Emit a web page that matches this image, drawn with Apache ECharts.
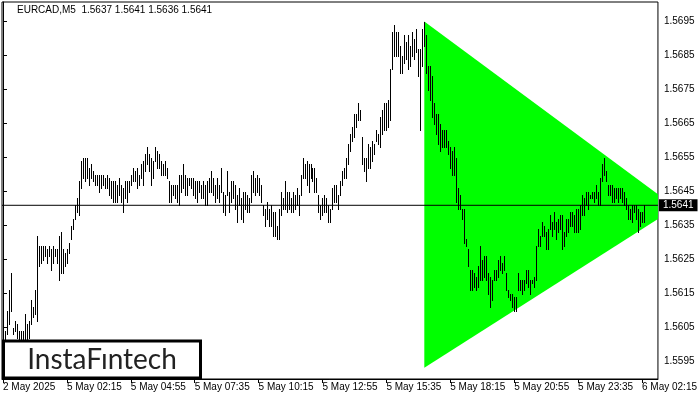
<!DOCTYPE html>
<html>
<head>
<meta charset="utf-8">
<script src="https://cdn.jsdelivr.net/npm/echarts@6/dist/echarts.min.js"></script>
<style>html,body{margin:0;padding:0;background:#fff}#c{width:700px;height:400px}</style>
</head>
<body>
<div id="c"></div>
<script>
const symbolName = 'EURCAD,M5';
const lastOHLC = [1.5637, 1.5641, 1.5636, 1.5641];
const currentPrice = 1.5641;
const yTicks = [1.5595, 1.5605, 1.5615, 1.5625, 1.5635, 1.5645, 1.5655, 1.5665, 1.5675, 1.5685, 1.5695];
const xTickIndex = [0, 32, 64, 96, 128, 160, 192, 224, 256, 288, 320];
const xTickLabels = ['2 May 2025', '5 May 02:15', '5 May 04:55', '5 May 07:35', '5 May 10:15', '5 May 12:55',
  '5 May 15:35', '5 May 18:15', '5 May 20:55', '5 May 23:35', '6 May 02:15'];

const highs = [
1.5609,1.5604,1.5610,1.5616,1.5621,1.5605,1.5607,1.5606,1.5604,1.5604,
1.5604,1.5609,1.5606,1.5607,1.5613,1.5611,1.5616,1.5632,1.5629,1.5629,
1.5629,1.5629,1.5628,1.5629,1.5628,1.5629,1.5628,1.5628,1.5632,1.5633,
1.5628,1.5627,1.5628,1.5630,1.5635,1.5637,1.5641,1.5643,1.5648,1.5654,
1.5655,1.5655,1.5655,1.5652,1.5653,1.5651,1.5650,1.5650,1.5650,1.5650,
1.5650,1.5649,1.5650,1.5649,1.5648,1.5648,1.5648,1.5647,1.5649,1.5647,
1.5646,1.5648,1.5648,1.5648,1.5650,1.5652,1.5651,1.5652,1.5650,1.5653,
1.5654,1.5656,1.5658,1.5656,1.5655,1.5654,1.5658,1.5657,1.5656,1.5654,
1.5653,1.5654,1.5652,1.5648,1.5647,1.5647,1.5647,1.5647,1.5650,1.5650,
1.5653,1.5650,1.5649,1.5649,1.5649,1.5649,1.5648,1.5648,1.5648,1.5647,
1.5648,1.5647,1.5648,1.5649,1.5651,1.5649,1.5647,1.5649,1.5647,1.5652,
1.5645,1.5644,1.5651,1.5645,1.5648,1.5648,1.5647,1.5644,1.5646,1.5643,
1.5645,1.5645,1.5644,1.5643,1.5650,1.5651,1.5649,1.5650,1.5649,1.5647,
1.5641,1.5640,1.5642,1.5640,1.5641,1.5639,1.5639,1.5635,1.5640,1.5645,
1.5643,1.5648,1.5645,1.5645,1.5643,1.5645,1.5644,1.5646,1.5644,1.5650,
1.5655,1.5653,1.5654,1.5653,1.5653,1.5652,1.5652,1.5649,1.5644,1.5641,
1.5643,1.5644,1.5643,1.5641,1.5640,1.5646,1.5647,1.5647,1.5644,1.5648,
1.5651,1.5652,1.5655,1.5659,1.5662,1.5664,1.5668,1.5668,1.5671,1.5669,
1.5661,1.5655,1.5655,1.5659,1.5658,1.5660,1.5659,1.5663,1.5662,1.5667,
1.5669,1.5671,1.5671,1.5672,1.5681,1.5692,1.5694,1.5692,1.5692,1.5688,
1.5685,1.5691,1.5689,1.5691,1.5688,1.5692,1.5690,1.5693,1.5687,1.5687,
1.5693,1.5695,1.5691,1.5682,1.5682,1.5679,1.5671,1.5668,1.5668,1.5665,
1.5663,1.5663,1.5663,1.5660,1.5658,1.5657,1.5658,1.5655,1.5646,1.5644,
1.5640,1.5640,1.5631,1.5628,1.5622,1.5622,1.5621,1.5620,1.5623,1.5629,
1.5625,1.5626,1.5626,1.5621,1.5620,1.5619,1.5622,1.5622,1.5625,1.5626,
1.5624,1.5626,1.5621,1.5616,1.5615,1.5615,1.5614,1.5614,1.5621,1.5619,
1.5619,1.5619,1.5622,1.5622,1.5619,1.5619,1.5620,1.5629,1.5634,1.5632,
1.5636,1.5635,1.5633,1.5634,1.5638,1.5636,1.5639,1.5636,1.5637,1.5638,
1.5638,1.5633,1.5637,1.5637,1.5639,1.5639,1.5638,1.5640,1.5640,1.5641,
1.5644,1.5643,1.5645,1.5645,1.5644,1.5645,1.5645,1.5647,1.5645,1.5649,
1.5653,1.5655,1.5651,1.5647,1.5647,1.5647,1.5646,1.5646,1.5646,1.5646,
1.5646,1.5645,1.5643,1.5641,1.5640,1.5641,1.5641,1.5641,1.5640,1.5639,
1.5639,1.5641];

const lows = [
1.5599,1.5601,1.5603,1.5606,1.5610,1.5603,1.5604,1.5602,1.5601,1.5601,
1.5601,1.5601,1.5601,1.5602,1.5606,1.5608,1.5609,1.5607,1.5623,1.5624,
1.5625,1.5626,1.5624,1.5626,1.5622,1.5624,1.5626,1.5624,1.5619,1.5621,
1.5621,1.5623,1.5624,1.5627,1.5631,1.5634,1.5637,1.5639,1.5638,1.5646,
1.5649,1.5648,1.5649,1.5647,1.5649,1.5648,1.5647,1.5647,1.5645,1.5646,
1.5647,1.5646,1.5646,1.5644,1.5643,1.5642,1.5642,1.5642,1.5644,1.5642,
1.5639,1.5643,1.5642,1.5645,1.5647,1.5648,1.5648,1.5646,1.5647,1.5649,
1.5647,1.5651,1.5653,1.5651,1.5647,1.5649,1.5654,1.5652,1.5652,1.5650,
1.5650,1.5650,1.5649,1.5642,1.5642,1.5644,1.5643,1.5642,1.5641,1.5645,
1.5646,1.5644,1.5644,1.5647,1.5646,1.5644,1.5643,1.5642,1.5645,1.5643,
1.5643,1.5641,1.5641,1.5645,1.5645,1.5644,1.5642,1.5643,1.5642,1.5645,
1.5639,1.5638,1.5644,1.5639,1.5642,1.5643,1.5640,1.5636,1.5641,1.5637,
1.5636,1.5640,1.5639,1.5639,1.5642,1.5645,1.5644,1.5645,1.5644,1.5642,
1.5638,1.5635,1.5637,1.5635,1.5635,1.5632,1.5632,1.5631,1.5631,1.5638,
1.5640,1.5640,1.5639,1.5640,1.5639,1.5639,1.5640,1.5641,1.5638,1.5644,
1.5649,1.5649,1.5647,1.5645,1.5649,1.5648,1.5645,1.5645,1.5639,1.5637,
1.5638,1.5639,1.5639,1.5636,1.5636,1.5640,1.5642,1.5642,1.5640,1.5644,
1.5647,1.5649,1.5649,1.5653,1.5657,1.5660,1.5661,1.5664,1.5666,1.5666,
1.5653,1.5651,1.5648,1.5652,1.5652,1.5654,1.5656,1.5660,1.5659,1.5658,
1.5662,1.5663,1.5663,1.5664,1.5666,1.5681,1.5685,1.5685,1.5685,1.5680,
1.5680,1.5683,1.5684,1.5681,1.5682,1.5685,1.5684,1.5686,1.5679,1.5663,
1.5682,1.5688,1.5680,1.5675,1.5672,1.5667,1.5665,1.5662,1.5659,1.5657,
1.5658,1.5658,1.5658,1.5656,1.5652,1.5650,1.5650,1.5642,1.5640,1.5640,
1.5637,1.5630,1.5629,1.5623,1.5616,1.5616,1.5617,1.5616,1.5617,1.5619,
1.5619,1.5620,1.5619,1.5615,1.5611,1.5613,1.5619,1.5619,1.5620,1.5622,
1.5621,1.5622,1.5616,1.5614,1.5613,1.5611,1.5610,1.5610,1.5616,1.5616,
1.5615,1.5616,1.5618,1.5617,1.5615,1.5618,1.5617,1.5619,1.5629,1.5629,
1.5632,1.5632,1.5628,1.5628,1.5634,1.5632,1.5634,1.5631,1.5633,1.5634,
1.5628,1.5629,1.5632,1.5633,1.5635,1.5635,1.5633,1.5633,1.5633,1.5634,
1.5638,1.5638,1.5641,1.5640,1.5643,1.5643,1.5642,1.5643,1.5641,1.5641,
1.5648,1.5650,1.5648,1.5644,1.5644,1.5642,1.5642,1.5643,1.5642,1.5643,
1.5642,1.5641,1.5640,1.5637,1.5637,1.5636,1.5639,1.5637,1.5633,1.5635,
1.5636,1.5636];

// triangle pattern vertices (bar index, price)
const triangleIndex = [211, 211, 337];
const trianglePrice = [1.56951, 1.55932, 1.56403];

const FONT = 'Liberation Sans';

function clipPoly(pts, r) {
  const x0 = r.x, x1 = r.x + r.width, y0 = r.y, y1 = r.y + r.height;
  const planes = [
    [p => p[0] >= x0, (a, b) => { const t = (x0 - a[0]) / (b[0] - a[0]); return [x0, a[1] + t * (b[1] - a[1])]; }],
    [p => p[0] <= x1, (a, b) => { const t = (x1 - a[0]) / (b[0] - a[0]); return [x1, a[1] + t * (b[1] - a[1])]; }],
    [p => p[1] >= y0, (a, b) => { const t = (y0 - a[1]) / (b[1] - a[1]); return [a[0] + t * (b[0] - a[0]), y0]; }],
    [p => p[1] <= y1, (a, b) => { const t = (y1 - a[1]) / (b[1] - a[1]); return [a[0] + t * (b[0] - a[0]), y1]; }]
  ];
  let out = pts;
  for (const [inside, inter] of planes) {
    const inp = out; out = [];
    for (let k = 0; k < inp.length; k++) {
      const cur = inp[k], prev = inp[(k + inp.length - 1) % inp.length];
      if (inside(cur)) {
        if (!inside(prev)) out.push(inter(prev, cur));
        out.push(cur);
      } else if (inside(prev)) {
        out.push(inter(prev, cur));
      }
    }
    if (!out.length) break;
  }
  return out;
}

const chart = echarts.init(document.getElementById('c'), null, {renderer: 'canvas'});
const barData = highs.map((h, i) => [i, h, lows[i]]);
const triData = triangleIndex.map((x, k) => [x, trianglePrice[k]]);

chart.setOption({
  animation: false,
  backgroundColor: '#fff',
  title: {
    text: symbolName + '  ' + lastOHLC.map(v => v.toFixed(4)).join(' '),
    left: 17, top: 5, padding: 0,
    textStyle: {fontFamily: FONT, fontSize: 10, fontWeight: 'normal', color: '#000'}
  },
  grid: {left: 2, right: 41, top: 2, bottom: 21, show: true, borderColor: '#000', borderWidth: 1, backgroundColor: '#fff'},
  xAxis: {
    type: 'value', min: -0.5, max: 328,
    axisLine: {show: true, lineStyle: {color: '#000', width: 1}},
    axisTick: {show: true, length: 4, customValues: xTickIndex, lineStyle: {color: '#000'}},
    axisLabel: {
      customValues: xTickIndex, align: 'left', margin: 3,
      fontFamily: FONT, fontSize: 10, color: '#000',
      formatter: v => xTickLabels[xTickIndex.indexOf(Math.round(v))] || ''
    },
    splitLine: {show: false}
  },
  yAxis: {
    type: 'value', position: 'right', min: 1.55899, max: 1.57008, scale: true,
    axisLine: {show: true, lineStyle: {color: '#000', width: 1}},
    axisTick: {show: true, length: 4, customValues: yTicks, lineStyle: {color: '#000'}},
    axisLabel: {
      customValues: yTicks, margin: 6, fontFamily: FONT, fontSize: 10, color: '#000',
      formatter: v => v.toFixed(4)
    },
    splitLine: {show: false}
  },
  series: [
    {
      type: 'custom', name: 'triangle', z: 1, silent: true,
      data: triData,
      renderItem: (params, api) => {
        if (params.dataIndex !== 0) return null;
        const pts = triData.map(d => api.coord(d));
        const cs = params.coordSys;
        const clipped = clipPoly(pts, {x: cs.x, y: cs.y, width: cs.width, height: cs.height});
        return {type: 'polygon', shape: {points: clipped}, style: {fill: '#00ff00', stroke: null}};
      }
    },
    {
      type: 'custom', name: 'bars', z: 2, silent: true,
      data: barData,
      encode: {x: 0, y: [1, 2]},
      renderItem: (params, api) => {
        const i = api.value(0);
        const top = api.coord([i, api.value(1)]);
        const bot = api.coord([i, api.value(2)]);
        const x = Math.round(top[0]);
        const y1 = Math.round(top[1]);
        const y2 = Math.round(bot[1]);
        return {type: 'rect', shape: {x: x, y: y1, width: 1, height: Math.max(1, y2 - y1 + 1)}, style: {fill: '#000'}};
      }
    },
    {
      type: 'line', name: 'price', z: 3, silent: true, showSymbol: false,
      data: [[-0.5, currentPrice], [328, currentPrice]],
      lineStyle: {color: '#000', width: 1},
      endLabel: {
        show: true, distance: 1,
        formatter: () => currentPrice.toFixed(4),
        backgroundColor: '#000', color: '#fff', fontFamily: FONT, fontSize: 10,
        padding: [1, 4, 1, 4]
      }
    }
  ],
  graphic: [
    {type: 'rect', z: 100, shape: {x: 3.5, y: 341, width: 197, height: 37},
     style: {fill: '#fff', stroke: '#000', lineWidth: 3}},
    {type: 'text', z: 101, x: 102, y: 360,
     style: {text: 'InstaFıntech', font: '28px Lato', fill: '#222', textAlign: 'center', textVerticalAlign: 'middle', align: 'center', verticalAlign: 'middle'}}
  ]
});
</script>
</body>
</html>
